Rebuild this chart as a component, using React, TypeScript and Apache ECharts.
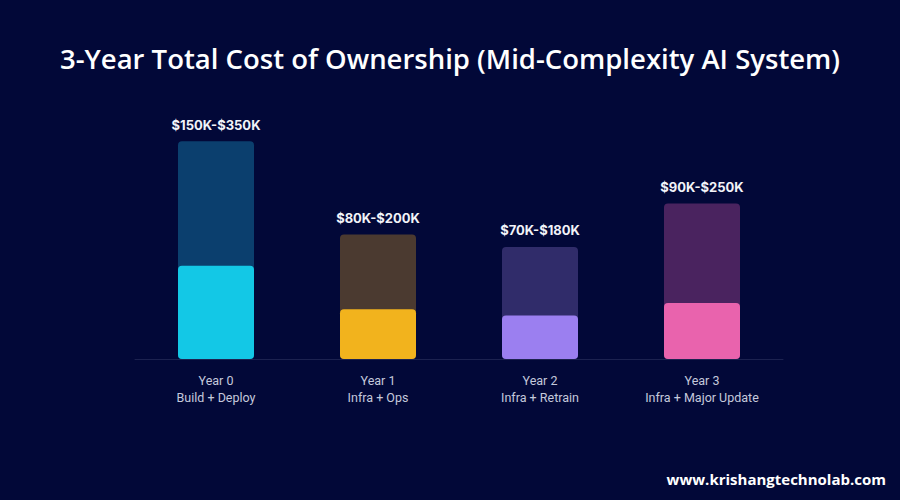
import React, { useEffect, useRef } from "react";
import * as echarts from "echarts";

const categories = ["Year 0", "Year 1", "Year 2", "Year 3"];
const subtitles = ["Build + Deploy", "Infra + Ops", "Infra + Retrain", "Infra + Major Update"];
const lowValues = [150, 80, 70, 90]; // $K
const highValues = [350, 200, 180, 250]; // $K
const brightColors = ["#13c8e6", "#f2b31d", "#9b7ff0", "#e963ad"];
const darkColors = ["#0b3f6e", "#4b3a30", "#302c6a", "#4a235f"];

export default function App() {
  const ref = useRef<HTMLDivElement>(null);
  useEffect(() => {
    if (!ref.current) return;
    const chart = echarts.init(ref.current, null, { renderer: "svg" });
    chart.setOption({
      animation: false,
      backgroundColor: "#020838",
      title: {
        text: "3-Year Total Cost of Ownership (Mid-Complexity AI System)",
        left: "center",
        top: 39,
        textStyle: { color: "#ffffff", fontSize: 27.5, fontWeight: 600, fontFamily: "Open Sans" },
      },
      graphic: [
        {
          type: "text",
          right: 14,
          top: 471,
          style: {
            text: "www.krishangtechnolab.com",
            fill: "#ffffff",
            font: "bold 15px 'Open Sans'",
          },
        },
      ],
      grid: { left: 135, right: 117, top: 110, bottom: 141 },
      xAxis: {
        type: "category",
        data: categories,
        axisLine: { show: true, lineStyle: { color: "#1c2250", width: 1 } },
        axisTick: { show: false },
        axisLabel: {
          margin: 13,
          color: "#c5c9dc",
          fontSize: 12.5,
          fontFamily: "Roboto",
          lineHeight: 17,
          formatter: (v: string, i: number) => v + "\n" + subtitles[i],
        },
      },
      yAxis: {
        type: "value",
        min: 0,
        max: 400,
        show: false,
        splitLine: { show: false },
      },
      series: [
        {
          type: "bar",
          barWidth: 76,
          barGap: "-100%",
          data: highValues.map((v, i) => ({ value: v, itemStyle: { color: darkColors[i] } })),
          itemStyle: { borderRadius: 4 },
          label: {
            show: true,
            position: "top",
            distance: 10,
            color: "#f2f3f8",
            fontSize: 13,
            fontWeight: "bold",
            fontFamily: "Inter",
            formatter: (p: any) => "$" + lowValues[p.dataIndex] + "K-$" + highValues[p.dataIndex] + "K",
          },
          z: 1,
        },
        {
          type: "bar",
          barWidth: 76,
          barGap: "-100%",
          data: lowValues.map((v, i) => ({ value: v, itemStyle: { color: brightColors[i] } })),
          itemStyle: { borderRadius: 4 },
          z: 2,
        },
      ],
    });
    return () => chart.dispose();
  }, []);
  return <div ref={ref} style={{ width: 900, height: 500, position: "absolute", left: 0, top: 0 }} />;
}
